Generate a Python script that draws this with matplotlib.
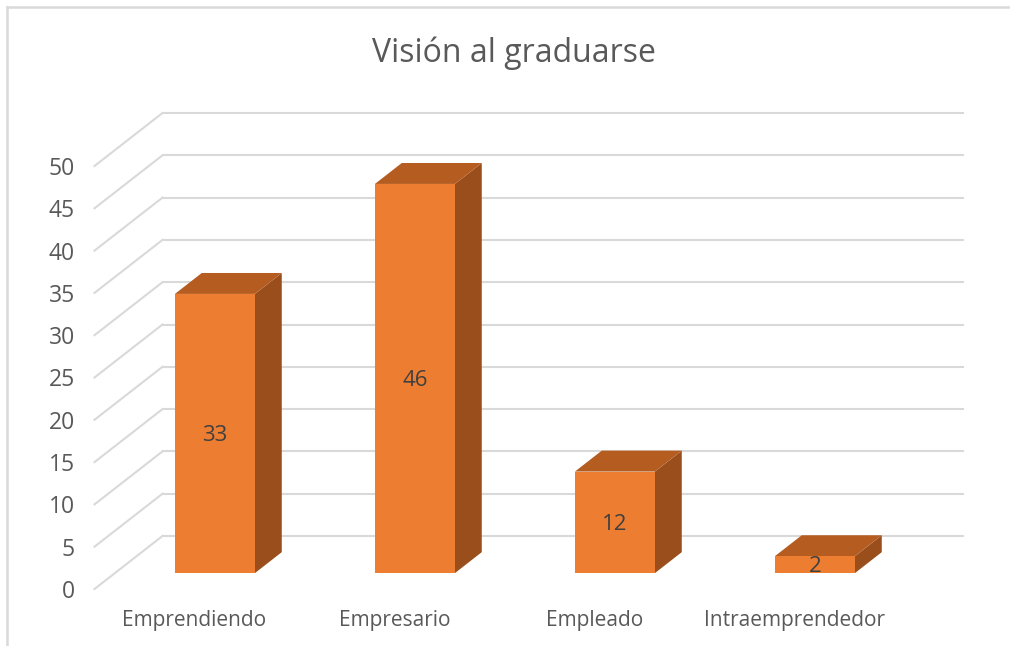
import matplotlib
matplotlib.use("Agg")
import matplotlib.pyplot as plt
from matplotlib.patches import Polygon
from matplotlib.lines import Line2D

categories = ["Emprendiendo", "Empresario", "Empleado", "Intraemprendedor"]
values = [33, 46, 12, 2]
y_ticks = [0, 5, 10, 15, 20, 25, 30, 35, 40, 45, 50]
title = "Visión al graduarse"

W, H = 1010, 646
FONT = "Open Sans"
TXT = "#595959"
GRID = "#D9D9D9"
FACE, SIDE, TOP = "#ED7D31", "#9A4E1B", "#B55D21"

fig = plt.figure(figsize=(W / 100, H / 100), dpi=100, facecolor="white")


def rect(x0, x1, ytop, ybot):
    return [x0 / W, 1 - ybot / H, (x1 - x0) / W, (ybot - ytop) / H]


# back wall axes: everything is projected onto it from (category, value, depth)
ax = fig.add_axes(rect(162.5, 962.5, 113, 536))
ax.set_xlim(-0.5, 3.5)
ax.set_ylim(0, 50)
ax.axis("off")

DX = 68 / 200      # full depth in category units
DY = 53 / (423 / 50)  # full depth in value units


def proj(x, y, d):
    return x - d * DX, y - d * DY


# front plane axes carries the tick labels
front = fig.add_axes(rect(94.5, 894.5, 166, 589), zorder=-1)
front.set_xlim(-0.5, 3.5)
front.set_ylim(0, 50)
front.patch.set_alpha(0)
for s in front.spines.values():
    s.set_visible(False)
front.set_yticks(y_ticks)
front.set_yticklabels([str(v) for v in y_ticks], family=FONT, fontsize=16.5, color=TXT)
front.set_xticks(range(len(categories)))
front.set_xticklabels(categories, family=FONT, fontsize=15, color=TXT)
front.tick_params(axis="y", length=0, pad=14)
front.tick_params(axis="x", length=0, pad=15)

# gridlines on wall and floor side
for v in y_ticks:
    ax.plot([-0.5, 3.5], [v, v], color=GRID, lw=1.5, clip_on=False, zorder=1)
    x1, y1 = proj(-0.5, v, 1.0)
    ax.plot([-0.5, x1], [v, y1], color=GRID, lw=1.5, clip_on=False, zorder=1)

# bars
HALF = 0.2
D_BACK, D_FRONT = 0.305, 0.70
for i, v in enumerate(values):
    xl, xr = i - HALF, i + HALF
    a = proj(xl, 0, D_FRONT)
    b = proj(xr, 0, D_FRONT)
    c = proj(xr, v, D_FRONT)
    d = proj(xl, v, D_FRONT)
    e = proj(xl, v, D_BACK)
    f = proj(xr, v, D_BACK)
    g = proj(xr, 0, D_BACK)
    ax.add_patch(Polygon([b, g, f, c], closed=True, fc=SIDE, ec="none", zorder=3, clip_on=False))
    ax.add_patch(Polygon([d, c, f, e], closed=True, fc=TOP, ec="none", zorder=3, clip_on=False))
    ax.add_patch(Polygon([a, b, c, d], closed=True, fc=FACE, ec="none", zorder=4, clip_on=False))
    lx, ly = proj(i, v / 2, D_FRONT)
    ax.annotate(str(v), (lx, ly), xytext=(0, -1.5), textcoords="offset points",
                ha="center", va="center", family=FONT, fontsize=16,
                color="#404040", zorder=5, annotation_clip=False)

fig.text(514 / W, 1 - 53 / H, title, ha="center", va="center", family=FONT,
         fontsize=23, color=TXT)

# outer frame of the embedded chart
fig.add_artist(Line2D([7 / W, 7 / W], [0, 1 - 7 / H], color="#D9D9D9", lw=1.8))
fig.add_artist(Line2D([7 / W, 1], [1 - 7 / H, 1 - 7 / H], color="#D9D9D9", lw=1.8))

fig.savefig("out.png", dpi=100)
